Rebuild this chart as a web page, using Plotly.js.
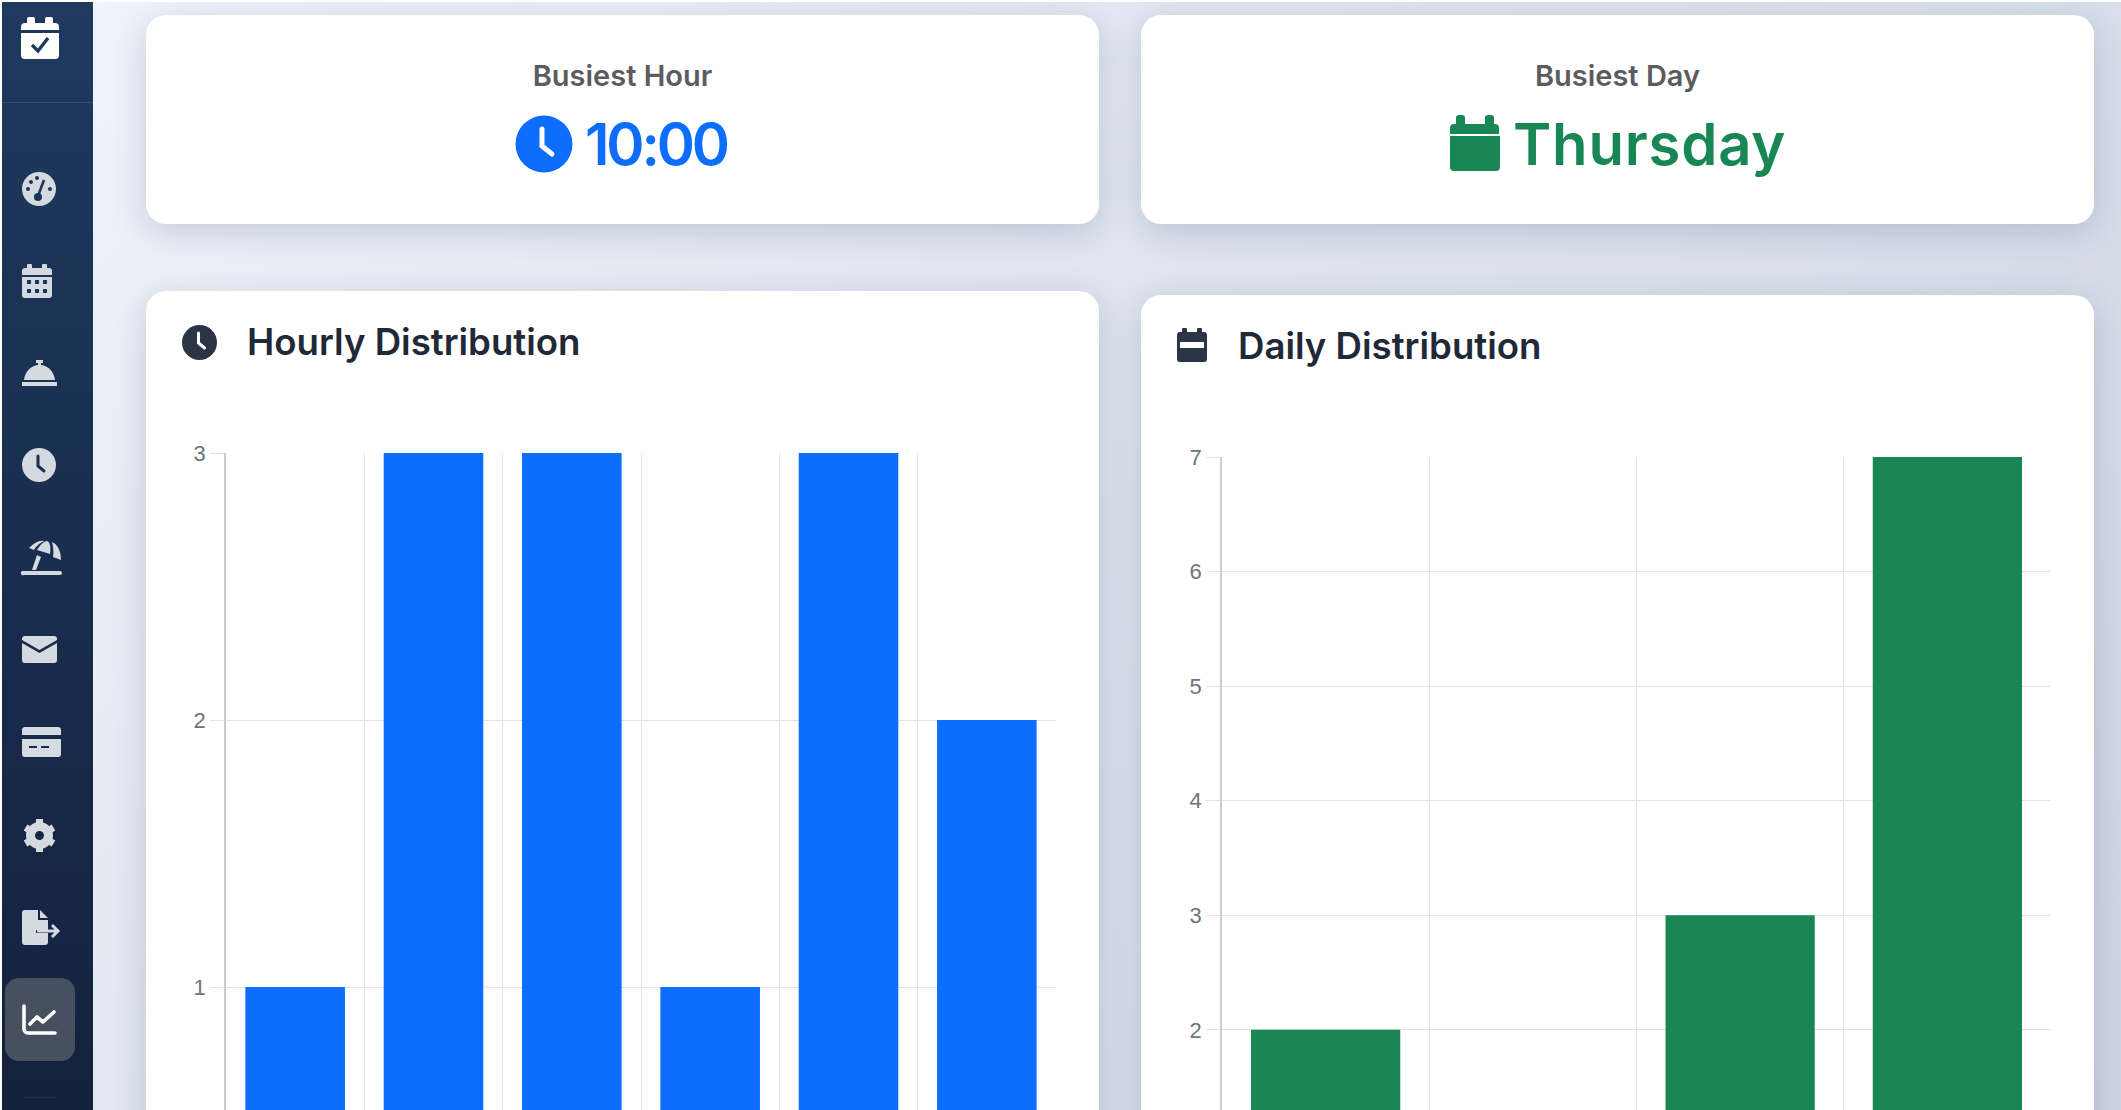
<!DOCTYPE html>
<html>
<head>
<meta charset="utf-8">
<title>Distribution</title>
<script src="https://cdn.plot.ly/plotly-3.0.1.min.js"></script>
<style>
  html, body { margin: 0; padding: 0; width: 2121px; height: 1110px; overflow: hidden; background: #fff; }
  body { font-family: Inter, "Noto Sans", sans-serif; }
  #page { position: absolute; left: 2px; top: 2px; width: 2119px; height: 1108px; overflow: hidden;
          background: linear-gradient(135deg, #f0f4fb 0%, #dfe5ef 45%, #cdd5e3 100%); }
  #side { position: absolute; left: 0; top: 0; width: 91px; height: 1108px;
          background: linear-gradient(180deg, #1e3a5f 0%, #14213d 100%); }
  #side .rule { position: absolute; left: 0; top: 100px; width: 91px; height: 1px; background: rgba(255,255,255,.1); }
  #side .active { position: absolute; left: 3px; top: 976px; width: 70px; height: 83px; border-radius: 14px; background: #46505f; }
  #side .foot { position: absolute; left: 20px; top: 1095px; width: 36px; height: 1px; background: rgba(255,255,255,.05); }
  .ic { position: absolute; overflow: visible; }
  .card { position: absolute; background: #fff; border-radius: 20px; box-shadow: 0 8px 34px rgba(40,60,100,.2); }
  .stat-label { position: absolute; top: 44px; left: 0; width: 100%; text-align: center; font-size: 29px; font-weight: 600; color: #5a5c60; line-height: 34px; }
  .stat-value { position: absolute; top: 94px; font-size: 58px; font-weight: 600; line-height: 70px; white-space: nowrap; }
  .chart { position: absolute; left: 0; top: 0; }
</style>
</head>
<body>
<div id="page">
  <div id="side">
    <div class="rule"></div>
    <div class="active"></div>
    <div class="foot"></div>
    <!-- calendar check -->
    <svg class="ic" style="left:19px;top:15px" width="38" height="42" viewBox="0 0 38 42">
      <path fill="#fff" d="M8 0h4a2 2 0 0 1 2 2v4h10V2a2 2 0 0 1 2-2h4a2 2 0 0 1 2 2v4h2a4 4 0 0 1 4 4v3H0v-3a4 4 0 0 1 4-4h2V2a2 2 0 0 1 2-2zM0 16h38v22a4 4 0 0 1-4 4H4a4 4 0 0 1-4-4z"/>
      <path fill="none" stroke="#1e3a5f" stroke-width="3.4" d="M11 28l6 6 10-13"/>
    </svg>
    <!-- gauge -->
    <svg class="ic" style="left:20px;top:170px" width="34" height="34" viewBox="0 0 34 34">
      <circle cx="17" cy="17" r="17" fill="#d5d9e0"/>
      <g fill="#1c3557"><circle cx="9" cy="10" r="2"/><circle cx="15" cy="6" r="2"/><circle cx="6" cy="17" r="2"/><circle cx="28" cy="17" r="2"/><circle cx="16" cy="25" r="4"/></g>
      <path stroke="#1c3557" stroke-width="2.6" d="M16 24L22 8"/>
    </svg>
    <!-- calendar days -->
    <svg class="ic" style="left:20px;top:262px" width="30" height="34" viewBox="0 0 30 34">
      <path fill="#d5d9e0" d="M6 0h3a1 1 0 0 1 1 1v3h10V1a1 1 0 0 1 1-1h3a1 1 0 0 1 1 1v3h2a3 3 0 0 1 3 3v4H0V7a3 3 0 0 1 3-3h2V1a1 1 0 0 1 1-1zM0 13h30v18a3 3 0 0 1-3 3H3a3 3 0 0 1-3-3z"/>
      <g fill="#1c3557"><rect x="5" y="16" width="4" height="4"/><rect x="13" y="16" width="4" height="4"/><rect x="21" y="16" width="4" height="4"/><rect x="5" y="25" width="4" height="4"/><rect x="13" y="25" width="4" height="4"/><rect x="21" y="25" width="4" height="4"/></g>
    </svg>
    <!-- bell -->
    <svg class="ic" style="left:20px;top:358px" width="35" height="26" viewBox="0 0 35 26">
      <path fill="#d5d9e0" d="M14 0h7v3h-2v2c8 1 13 7 14 15H2C3 12 8 6 16 5V3h-2zM0 22h35v4H0z"/>
    </svg>
    <!-- clock -->
    <svg class="ic" style="left:20px;top:446px" width="34" height="34" viewBox="0 0 34 34">
      <circle cx="17" cy="17" r="17" fill="#d5d9e0"/>
      <path fill="none" stroke="#1a3050" stroke-width="3" stroke-linecap="round" d="M16 8v10l6 5"/>
    </svg>
    <!-- umbrella beach -->
    <svg class="ic" style="left:20px;top:538px" width="39" height="35" viewBox="0 0 39 35">
      <path fill="#d5d9e0" d="M7 8C12 3 17 0 22 1 18 3 14 6 12 10zM15 10C18 5 22 1 25 1c3 1 4 6 3 13zM30 2c5 2 9 8 9 18l-8-3c1-6 0-11-1-15zM15 15l4 2-5 13h-4zM0 31h38a2 2 0 0 1 0 4H2a2 2 0 0 1-2-4z"/>
    </svg>
    <!-- envelope -->
    <svg class="ic" style="left:20px;top:634px" width="35" height="27" viewBox="0 0 35 27">
      <path fill="#d5d9e0" d="M3 0h29a3 3 0 0 1 3 3v1L17.5 14 0 4V3a3 3 0 0 1 3-3zM0 7l17.5 10L35 7v17a3 3 0 0 1-3 3H3a3 3 0 0 1-3-3z"/>
    </svg>
    <!-- credit card -->
    <svg class="ic" style="left:20px;top:725px" width="39" height="30" viewBox="0 0 39 30">
      <path fill="#d5d9e0" d="M3 0h33a3 3 0 0 1 3 3v5H0V3a3 3 0 0 1 3-3zM0 12h39v15a3 3 0 0 1-3 3H3a3 3 0 0 1-3-3z"/>
      <path stroke="#1a2c48" stroke-width="2" d="M7 20h8M19 20h8"/>
    </svg>
    <!-- gear -->
    <svg class="ic" style="left:21px;top:816px" width="33" height="35" viewBox="0 0 33 35">
      <circle cx="16.5" cy="17.5" r="9" fill="none" stroke="#d5d9e0" stroke-width="9"/>
      <path fill="none" stroke="#d5d9e0" stroke-width="7" d="M16.5 1v6M16.5 28v6M2.5 9.5l5 3M25.5 22.5l5 3M2.5 25.5l5-3M25.5 12.5l5-3"/>
    </svg>
    <!-- file export -->
    <svg class="ic" style="left:20px;top:908px" width="39" height="35" viewBox="0 0 39 35">
      <path fill="#d5d9e0" d="M3 0h13v10h10v10H14v3h12v9a3 3 0 0 1-3 3H3a3 3 0 0 1-3-3V3a3 3 0 0 1 3-3zM18 0l8 8h-8z"/>
      <path fill="none" stroke="#d5d9e0" stroke-width="3" d="M15 21h21M30 15l6 6-6 6"/>
    </svg>
    <!-- chart line -->
    <svg class="ic" style="left:20px;top:1002px" width="35" height="31" viewBox="0 0 35 31">
      <path fill="none" stroke="#fff" stroke-width="3.6" stroke-linecap="round" stroke-linejoin="round" d="M2 2v23a4 4 0 0 0 4 4h27M8 20l7-7 6 5 11-10"/>
    </svg>
  </div>

  <div class="card" style="left:144px;top:13px;width:953px;height:209px">
    <div class="stat-label">Busiest Hour</div>
    <svg class="ic" style="left:369px;top:100px" width="58" height="58" viewBox="0 0 58 58">
      <circle cx="29" cy="29" r="28.5" fill="#0d6efd"/>
      <path fill="none" stroke="#fff" stroke-width="5" stroke-linecap="round" d="M27 14v17l10 8"/>
    </svg>
    <div class="stat-value" style="left:439px;color:#0d6efd;letter-spacing:-3.2px">10:00</div>
  </div>

  <div class="card" style="left:1139px;top:13px;width:953px;height:209px">
    <div class="stat-label">Busiest Day</div>
    <svg class="ic" style="left:309px;top:100px" width="50" height="56" viewBox="0 0 50 56">
      <path fill="#198754" d="M9 0h3a3 3 0 0 1 3 3v6h20V3a3 3 0 0 1 3-3h3a3 3 0 0 1 3 3v6h1a4 4 0 0 1 4 4v6H0v-6a4 4 0 0 1 4-4h2V3a3 3 0 0 1 3-3zM0 21h50v31a4 4 0 0 1-4 4H4a4 4 0 0 1-4-4z"/>
    </svg>
    <div class="stat-value" style="left:372px;color:#198754;letter-spacing:.8px">Thursday</div>
  </div>

  <div class="card" style="left:144px;top:289px;width:953px;height:1100px">
    <svg class="ic" style="left:36px;top:34px" width="35" height="35" viewBox="0 0 35 35">
      <circle cx="17.5" cy="17.5" r="17.5" fill="#2a3444"/>
      <path fill="none" stroke="#fff" stroke-width="3" stroke-linecap="round" d="M16.5 8v10l6 5"/>
    </svg>
    <div id="hourly" class="chart"></div>
  </div>

  <div class="card" style="left:1139px;top:293px;width:953px;height:1100px">
    <svg class="ic" style="left:36px;top:33px" width="30" height="34" viewBox="0 0 30 34">
      <path fill="#2a3444" d="M6 0h3a1 1 0 0 1 1 1v3h10V1a1 1 0 0 1 1-1h3a1 1 0 0 1 1 1v3h2a3 3 0 0 1 3 3v24a3 3 0 0 1-3 3H3a3 3 0 0 1-3-3V7a3 3 0 0 1 3-3h2V1a1 1 0 0 1 1-1z"/>
      <rect x="3" y="14" width="24" height="6" fill="#fff"/>
    </svg>
    <div id="daily" class="chart"></div>
  </div>
</div>

<script>
var hourLabels = ["09:00", "10:00", "11:00", "12:00", "13:00", "14:00"];
var hourCounts = [1, 3, 3, 1, 3, 2];
var hourTicks = [1, 2, 3];
var dayLabels = ["Monday", "Tuesday", "Wednesday", "Thursday"];
var dayCounts = [2, 1, 3, 7];
var dayTicks = [2, 3, 4, 5, 6, 7];

var gridColor = "#e2e2e2";

function drawBars(id, title, labels, counts, ticks, color, maxY, titleX, titleY, marginL, marginT, plotH) {
  var w = 953, b = 60;
  var layout = {
    width: w,
    height: marginT + plotH + b,
    margin: { l: marginL, r: 43, t: marginT, b: b },
    paper_bgcolor: "rgba(0,0,0,0)",
    plot_bgcolor: "rgba(0,0,0,0)",
    bargap: 0.28,
    showlegend: false,
    title: {
      text: title,
      xref: "container",
      yref: "container",
      x: titleX / w,
      xanchor: "left",
      y: 1 - titleY / (marginT + plotH + b),
      yanchor: "middle",
      font: { family: "Inter, sans-serif", size: 36.6, weight: 600, color: "#1f2937" },
    },
    xaxis: {
      type: "category",
      categoryorder: "array",
      categoryarray: labels,
      tickson: "boundaries",
      showgrid: true,
      gridcolor: gridColor,
      gridwidth: 1.4,
      showticklabels: false, // below the crop
      zeroline: false,
    },
    yaxis: {
      range: [0, maxY],
      tickvals: ticks,
      showline: true,
      linecolor: "#cccccc",
      linewidth: 1.6,
      showgrid: true,
      gridcolor: gridColor,
      gridwidth: 1.4,
      ticks: "outside",
      ticklen: 14,
      tickwidth: 1.4,
      tickcolor: gridColor,
      tickfont: { family: "Liberation Sans, Arial, sans-serif", size: 22, color: "#6c757d" },
      zeroline: false,
    },
  };
  var trace = {
    type: "bar",
    x: labels,
    y: counts,
    marker: { color: color, line: { width: 0 } },
  };
  Plotly.newPlot(id, [trace], layout, { displayModeBar: false });
}

drawBars("hourly", "Hourly Distribution", hourLabels, hourCounts, hourTicks, "#0d6efd", 3, 101, 51, 80, 162, 801);
drawBars("daily", "Daily Distribution", dayLabels, dayCounts, dayTicks, "#198754", 7, 97, 51, 81, 162, 802);
</script>
</body>
</html>
